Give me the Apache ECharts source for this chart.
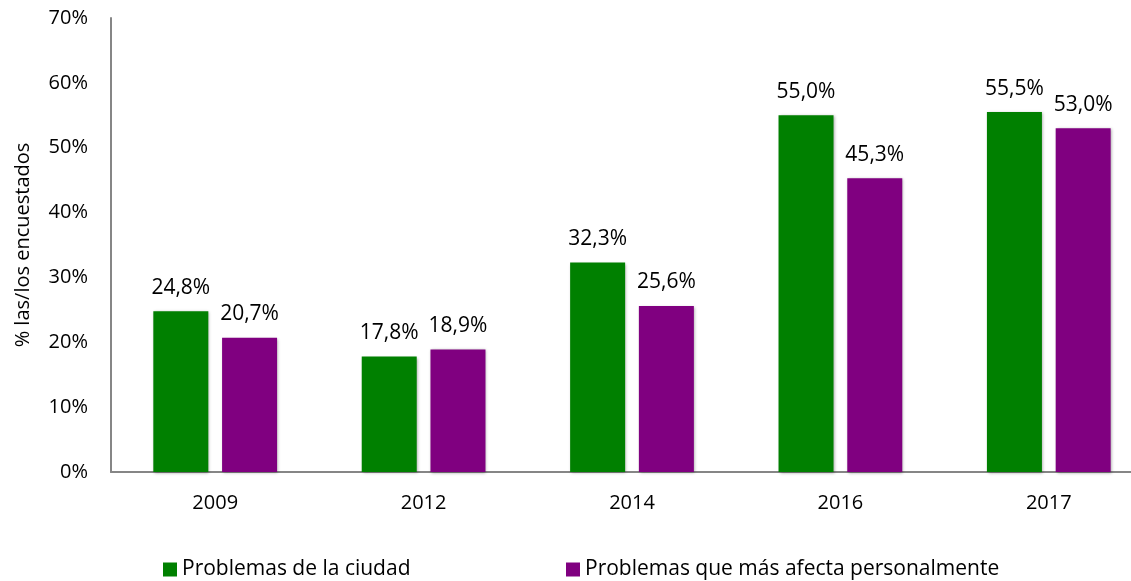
<!DOCTYPE html>
<html>
<head>
<meta charset="utf-8">
<script src="https://cdn.jsdelivr.net/npm/echarts@6/dist/echarts.min.js"></script>
<style>
  html, body { margin: 0; padding: 0; background: #fff; }
  #chart { width: 1131px; height: 581px; }
</style>
</head>
<body>
<div id="chart"></div>
<script>
var years = ['2009', '2012', '2014', '2016', '2017'];
var ciudad = [24.8, 17.8, 32.3, 55.0, 55.5];
var personal = [20.7, 18.9, 25.6, 45.3, 53.0];
var seriesNames = ['Problemas de la ciudad', 'Problemas que más afecta personalmente'];

var font = '"Open Sans", sans-serif';

function pct(v) {
    return v.toFixed(1).replace('.', ',') + '%';
}

var chart = echarts.init(document.getElementById('chart'));

var barShadow = {
    shadowBlur: 3,
    shadowColor: 'rgba(0,0,0,0.35)',
    shadowOffsetX: 1,
    shadowOffsetY: 1
};

var option = {
    animation: false,
    grid: {
        left: 111, top: 18, width: 1042, bottom: 109,
        containLabel: false, outerBoundsMode: 'none'
    },
    legend: [
        {
            left: 163, top: 559, padding: 0,
            itemWidth: 14, itemHeight: 14, icon: 'rect', itemGap: 6,
            textStyle: { fontFamily: font, fontSize: 21, color: '#000' },
            data: [seriesNames[0]]
        },
        {
            left: 566, top: 559, padding: 0,
            itemWidth: 14, itemHeight: 14, icon: 'rect',
            textStyle: { fontFamily: font, fontSize: 21, color: '#000' },
            data: [seriesNames[1]]
        }
    ],
    xAxis: {
        type: 'category',
        data: years,
        axisLine: { lineStyle: { color: '#868686', width: 2 } },
        axisTick: { show: false },
        axisLabel: { fontFamily: font, fontSize: 20, color: '#000', margin: 21 }
    },
    yAxis: {
        type: 'value',
        min: 0, max: 70, interval: 10,
        name: '% las/los encuestados',
        nameLocation: 'middle',
        nameGap: 78,
        nameTextStyle: { fontFamily: font, fontSize: 20, color: '#000' },
        axisLine: { show: true, lineStyle: { color: '#868686', width: 2 } },
        axisTick: { show: false },
        splitLine: { show: false },
        axisLabel: {
            fontFamily: font, fontSize: 20, color: '#000', margin: 23,
            formatter: '{value}%'
        }
    },
    series: [
        {
            name: seriesNames[0],
            type: 'bar',
            data: ciudad,
            barWidth: 55,
            barGap: '25%',
            itemStyle: Object.assign({ color: '#008000' }, barShadow),
            label: {
                show: true, position: 'top', distance: 13,
                fontFamily: font, fontSize: 21, color: '#000',
                formatter: function (p) { return pct(p.value); }
            }
        },
        {
            name: seriesNames[1],
            type: 'bar',
            data: personal,
            barWidth: 55,
            itemStyle: Object.assign({ color: '#800080' }, barShadow),
            label: {
                show: true, position: 'top', distance: 13,
                fontFamily: font, fontSize: 21, color: '#000',
                formatter: function (p) { return pct(p.value); }
            }
        }
    ]
};

chart.setOption(option);
</script>
</body>
</html>
